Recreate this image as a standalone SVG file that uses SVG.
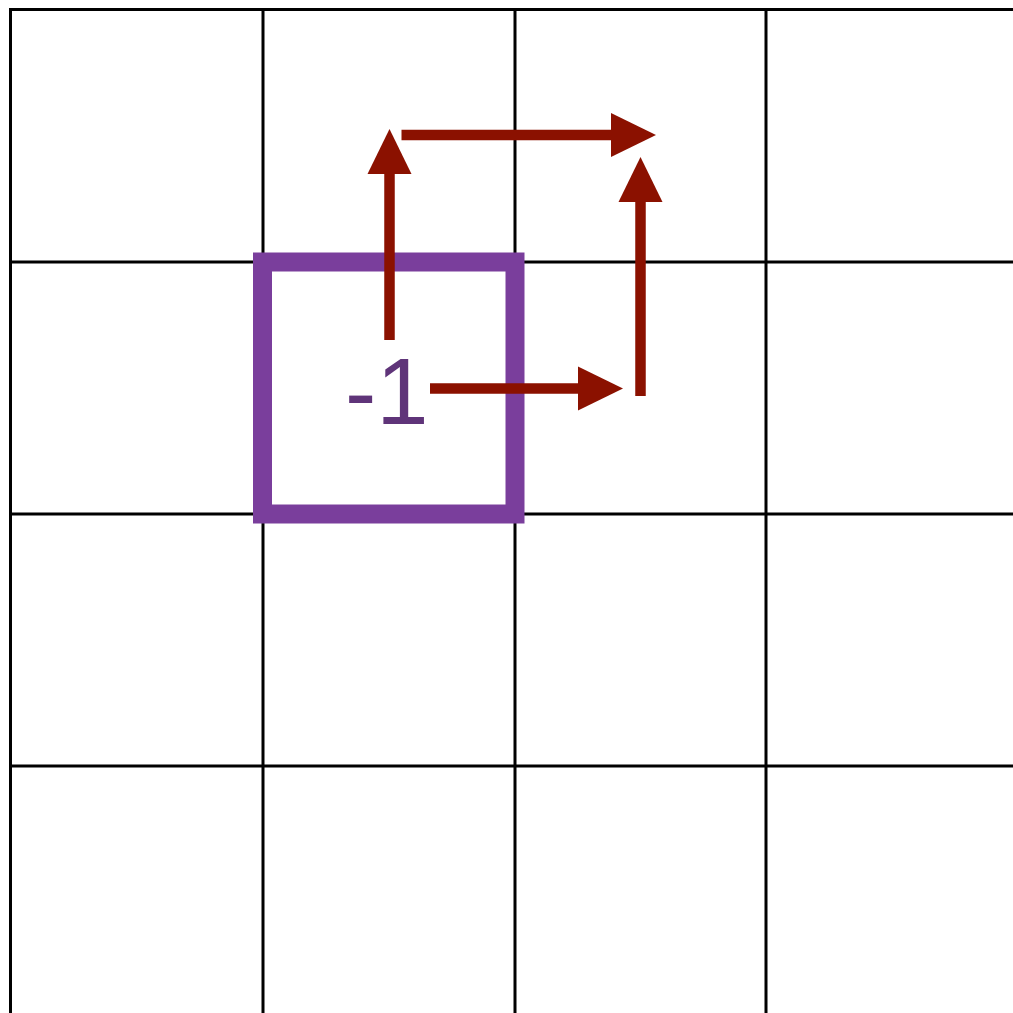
<svg xmlns="http://www.w3.org/2000/svg" width="1013" height="1013" viewBox="0 0 1013 1013">
<style>
.grid line{stroke:#000;stroke-width:3}
.conn line{stroke:#8b1100;stroke-width:10.5;marker-end:url(#ah)}
.cell{fill:none;stroke:#7a3e9c;stroke-width:19}
.lbl{font-family:"Liberation Sans",Arial,sans-serif;font-size:94px;fill:#5f3479}
</style>
<defs>
<marker id="ah" markerUnits="userSpaceOnUse" markerWidth="46" markerHeight="46" viewBox="-1 -23 46 46" refX="0" refY="0" orient="auto">
<path d="M-1,-22 L44,0 L-1,22 z" fill="#8b1100"/>
</marker>
</defs>
<rect width="1013" height="1013" fill="#fff"/>
<g class="grid">
<line x1="10.5" y1="8" x2="10.5" y2="1013"/>
<line x1="263" y1="8" x2="263" y2="1013"/>
<line x1="515" y1="8" x2="515" y2="1013"/>
<line x1="766" y1="8" x2="766" y2="1013"/>
<line x1="9" y1="9.5" x2="1013" y2="9.5"/>
<line x1="9" y1="262" x2="1013" y2="262"/>
<line x1="9" y1="514" x2="1013" y2="514"/>
<line x1="9" y1="766" x2="1013" y2="766"/>
</g>
<g id="cell">
<rect class="cell" x="262.5" y="262" width="252.5" height="252"/>
<text class="lbl" x="345" y="424">-1</text>
</g>
<g class="conn">
<line x1="389.5" y1="340" x2="389.5" y2="173"/>
<line x1="401.5" y1="135" x2="612" y2="135"/>
<line x1="640.5" y1="396" x2="640.5" y2="201"/>
<line x1="430" y1="388.5" x2="579" y2="388.5"/>
</g>
</svg>
